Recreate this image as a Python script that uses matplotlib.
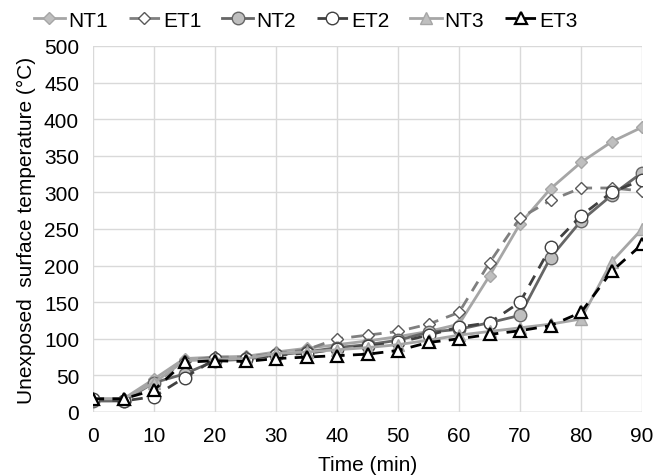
import matplotlib
matplotlib.use("Agg")
import matplotlib.pyplot as plt

plt.rcParams['font.family'] = ['Liberation Sans', 'DejaVu Sans']

time = [0, 5, 10, 15, 20, 25, 30, 35, 40, 45, 50, 55, 60, 65, 70, 75, 80, 85, 90]
NT1 = [18, 18, 45, 73, 75, 76, 82, 87, 92, 97, 103, 110, 120, 186, 257, 305, 341, 369, 389]
ET1 = [18, 18, 38, 70, 75, 75, 80, 85, 100, 105, 110, 120, 136, 204, 265, 289, 306, 306, 302]
NT2 = [15, 15, 40, 52, 70, 72, 78, 82, 88, 92, 98, 109, 113, 122, 132, 211, 261, 296, 327]
ET2 = [18, 15, 21, 47, 72, 72, 78, 80, 86, 90, 95, 105, 116, 122, 150, 225, 268, 300, 317]
NT3 = [18, 18, 40, 70, 72, 73, 80, 82, 85, 88, 92, 98, 105, 110, 115, 120, 127, 205, 250]
ET3 = [18, 18, 30, 68, 70, 69, 73, 75, 77, 79, 84, 95, 100, 106, 111, 118, 136, 192, 229]

fig = plt.figure(figsize=(6.72, 4.77), dpi=100)
ax = fig.add_axes([93/672, 1-413/477, (642-93)/672, (413-47)/477])

styles = [
    ("NT1", NT1, dict(color='#a6a6a6', ls='-', marker='D', ms=6.5, mfc='#bfbfbf', mec='#a6a6a6', lw=2)),
    ("ET1", ET1, dict(color='#7f7f7f', ls=(0, (4, 3)), marker='D', ms=6.5, mfc='white', mec='#595959', lw=2)),
    ("NT2", NT2, dict(color='#666666', ls='-', marker='o', ms=9, mfc='#bfbfbf', mec='#666666', lw=2)),
    ("ET2", ET2, dict(color='#404040', ls=(0, (4, 3)), marker='o', ms=9, mfc='white', mec='#404040', lw=2)),
    ("NT3", NT3, dict(color='#a6a6a6', ls='-', marker='^', ms=9, mfc='#bfbfbf', mec='#a6a6a6', lw=2)),
    ("ET3", ET3, dict(color='black', ls=(0, (4, 3)), marker='^', ms=9, mfc='white', mec='black', lw=2, mew=1.6)),
]
for name, vals, kw in styles:
    ax.plot(time, vals, label=name, **kw)

ax.set_xlim(0, 90)
ax.set_ylim(0, 500)
ax.set_xticks(range(0, 91, 10))
ax.set_yticks(range(0, 501, 50))
ax.grid(True, color='#d9d9d9', lw=1)
ax.set_axisbelow(True)
for s in ax.spines.values():
    s.set_visible(False)
ax.axhline(0, color='#bfbfbf', lw=1, zorder=0.5)
ax.tick_params(length=0, labelsize=15, pad=10)
ax.set_xlabel("Time (min)", fontsize=15, labelpad=7)
ax.set_ylabel("Unexposed  surface temperature (°C)", fontsize=15, labelpad=6)

fig.legend(loc='upper center', bbox_to_anchor=(0.455, 1.015), ncol=6, frameon=False,
           fontsize=15, handlelength=1.5, columnspacing=1.0, handletextpad=0.15)

fig.savefig("out.png", dpi=100)
